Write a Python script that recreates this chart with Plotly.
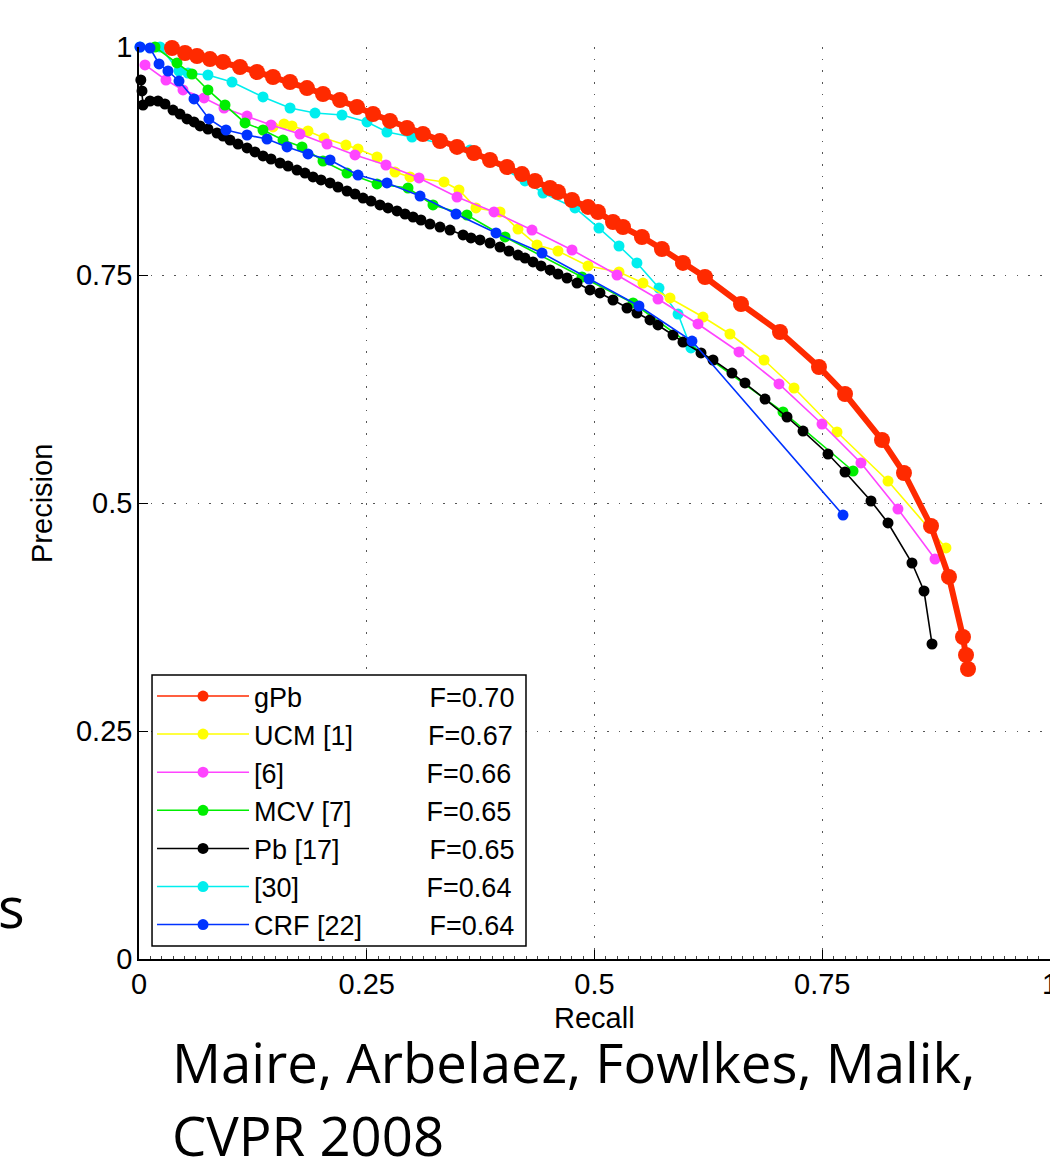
import plotly.graph_objects as go

# ---------------- data ----------------
gpb_r = [0.0362, 0.0505, 0.0637, 0.0779, 0.0922, 0.1109, 0.1295, 0.1471, 0.1658, 0.1844,
         0.2020, 0.2206, 0.2393, 0.2569, 0.2755, 0.2942, 0.3117, 0.3304, 0.3491, 0.3677,
         0.3853, 0.4040, 0.4204, 0.4347, 0.4512, 0.4599, 0.4753, 0.4929, 0.5038, 0.5203,
         0.5313, 0.5521, 0.5740, 0.5971, 0.6213, 0.6608, 0.7036, 0.7464, 0.7750, 0.8156,
         0.8397, 0.8694, 0.8891, 0.9045, 0.9078, 0.9100]
gpb_p = [0.9989, 0.9934, 0.9901, 0.9868, 0.9836, 0.9781, 0.9726, 0.9671, 0.9616, 0.9550,
         0.9485, 0.9419, 0.9342, 0.9265, 0.9189, 0.9112, 0.9046, 0.8969, 0.8904, 0.8838,
         0.8761, 0.8684, 0.8607, 0.8531, 0.8454, 0.8410, 0.8322, 0.8246, 0.8191, 0.8081,
         0.8026, 0.7917, 0.7785, 0.7632, 0.7478, 0.7182, 0.6875, 0.6491, 0.6195, 0.5691,
         0.5329, 0.4748, 0.4189, 0.3531, 0.3333, 0.3180]

ucm_r = [0.1471, 0.1592, 0.1679, 0.1855, 0.2031, 0.2272, 0.2404, 0.2613, 0.2810, 0.2975,
         0.3348, 0.3513, 0.3699, 0.3963, 0.4160, 0.4369, 0.4599, 0.4929, 0.5269, 0.5532,
         0.5829, 0.6191, 0.6487, 0.6861, 0.7190, 0.7662, 0.8222, 0.8858]
ucm_p = [0.9123, 0.9156, 0.9134, 0.9079, 0.9002, 0.8925, 0.8882, 0.8794, 0.8629, 0.8575,
         0.8520, 0.8432, 0.8235, 0.8191, 0.8004, 0.7829, 0.7763, 0.7599, 0.7533, 0.7412,
         0.7248, 0.7039, 0.6853, 0.6568, 0.6261, 0.5779, 0.5241, 0.4507]

m6_r = [0.0066, 0.0296, 0.0483, 0.0714, 0.0933, 0.1186, 0.1449, 0.1767, 0.2064, 0.2371,
        0.2711, 0.3074, 0.3491, 0.3897, 0.4314, 0.4753, 0.5247, 0.5697, 0.6136, 0.6586,
        0.7025, 0.7497, 0.7925, 0.8331, 0.8738]
m6_p = [0.9803, 0.9638, 0.9529, 0.9441, 0.9331, 0.9243, 0.9145, 0.9046, 0.8936, 0.8816,
        0.8706, 0.8564, 0.8355, 0.8191, 0.7993, 0.7774, 0.7500, 0.7237, 0.6963, 0.6656,
        0.6305, 0.5866, 0.5439, 0.4934, 0.4386]

mcv_r = [0.0176, 0.0417, 0.0582, 0.0757, 0.0944, 0.1164, 0.1361, 0.1581, 0.1789, 0.2020,
         0.2283, 0.2613, 0.2953, 0.3227, 0.3600, 0.4018, 0.4863, 0.5423, 0.7069, 0.7838]
mcv_p = [1.0000, 0.9825, 0.9704, 0.9529, 0.9364, 0.9167, 0.9090, 0.8980, 0.8904, 0.8750,
         0.8618, 0.8498, 0.8454, 0.8268, 0.8158, 0.7917, 0.7478, 0.7193, 0.5998, 0.5351]

pb_r = [0.0020, 0.0033, 0.0044, 0.0121, 0.0209, 0.0285, 0.0373, 0.0450, 0.0527, 0.0604,
        0.0670, 0.0757, 0.0856, 0.0922, 0.0999, 0.1087, 0.1186, 0.1273, 0.1361, 0.1449,
        0.1548, 0.1636, 0.1734, 0.1822, 0.1910, 0.1998, 0.2097, 0.2184, 0.2283, 0.2371,
        0.2459, 0.2547, 0.2645, 0.2733, 0.2832, 0.2920, 0.3008, 0.3095, 0.3194, 0.3304,
        0.3414, 0.3557, 0.3644, 0.3743, 0.3853, 0.3963, 0.4061, 0.4160, 0.4237, 0.4325,
        0.4413, 0.4512, 0.4599, 0.4698, 0.4808, 0.4951, 0.5060, 0.5203, 0.5357, 0.5466,
        0.5609, 0.5697, 0.5862, 0.5971, 0.6169, 0.6301, 0.6509, 0.6652, 0.6872, 0.7113,
        0.7289, 0.7563, 0.7750, 0.8035, 0.8222, 0.8485, 0.8617, 0.8705]
pb_p = [0.9638, 0.9518, 0.9364, 0.9408, 0.9408, 0.9375, 0.9309, 0.9265, 0.9211, 0.9178,
        0.9134, 0.9101, 0.9057, 0.9024, 0.8980, 0.8936, 0.8893, 0.8849, 0.8805, 0.8772,
        0.8728, 0.8695, 0.8651, 0.8618, 0.8575, 0.8542, 0.8509, 0.8465, 0.8421, 0.8388,
        0.8344, 0.8311, 0.8268, 0.8235, 0.8202, 0.8169, 0.8136, 0.8103, 0.8059, 0.8026,
        0.7993, 0.7939, 0.7906, 0.7884, 0.7851, 0.7807, 0.7763, 0.7719, 0.7686, 0.7643,
        0.7599, 0.7555, 0.7511, 0.7467, 0.7412, 0.7336, 0.7303, 0.7226, 0.7138, 0.7083,
        0.7007, 0.6952, 0.6842, 0.6765, 0.6645, 0.6568, 0.6425, 0.6316, 0.6140, 0.5943,
        0.5789, 0.5537, 0.5340, 0.5022, 0.4781, 0.4342, 0.4035, 0.3454]

m30_r = [0.0011, 0.0231, 0.0439, 0.0538, 0.0757, 0.1021, 0.1361, 0.1658, 0.1932, 0.2228,
         0.2503, 0.2722, 0.2997, 0.3633, 0.4237, 0.4435, 0.4786, 0.5049, 0.5269, 0.5466,
         0.5708, 0.5917, 0.6059]
m30_p = [1.0000, 1.0000, 0.9737, 0.9715, 0.9693, 0.9616, 0.9452, 0.9331, 0.9276, 0.9254,
         0.9178, 0.9068, 0.9013, 0.8870, 0.8531, 0.8399, 0.8235, 0.8015, 0.7818, 0.7632,
         0.7357, 0.7072, 0.6700]

crf_r = [0.0011, 0.0121, 0.0220, 0.0318, 0.0439, 0.0604, 0.0768, 0.0955, 0.1186, 0.1405,
         0.1625, 0.1855, 0.2097, 0.2404, 0.2722, 0.3085, 0.3480, 0.3919, 0.4424, 0.4940,
         0.5488, 0.6070, 0.7728]
crf_p = [1.0000, 0.9989, 0.9814, 0.9737, 0.9627, 0.9430, 0.9211, 0.9090, 0.9035, 0.8991,
         0.8904, 0.8827, 0.8761, 0.8596, 0.8509, 0.8366, 0.8169, 0.7961, 0.7741, 0.7456,
         0.7160, 0.6776, 0.4868]

legend_names = ["gPb", "UCM [1]", "[6]", "MCV [7]", "Pb [17]", "[30]", "CRF [22]"]
legend_f = ["0.70", "0.67", "0.66", "0.65", "0.65", "0.64", "0.64"]
tick_vals = [0, 0.25, 0.5, 0.75, 1]
tick_text = ["0", "0.25", "0.5", "0.75", "1"]

# ---------------- styling ----------------
COLORS = {
    "gPb": "#ff2a00", "UCM [1]": "#ffff00", "[6]": "#ff44ff", "MCV [7]": "#00ee00",
    "Pb [17]": "#000000", "[30]": "#00eeee", "CRF [22]": "#0033ff",
}
series = {
    "gPb": (gpb_r, gpb_p), "UCM [1]": (ucm_r, ucm_p), "[6]": (m6_r, m6_p),
    "MCV [7]": (mcv_r, mcv_p), "Pb [17]": (pb_r, pb_p), "[30]": (m30_r, m30_p),
    "CRF [22]": (crf_r, crf_p),
}
draw_order = ["[30]", "UCM [1]", "[6]", "MCV [7]", "Pb [17]", "CRF [22]", "gPb"]

FONT = "Liberation Sans, Arial, Helvetica, sans-serif"
SLIDE_FONT = "Open Sans, Noto Sans, sans-serif"
LEG_FS = 27
ARIAL_W = {' ': 278, 'g': 556, 'P': 667, 'b': 556, 'U': 722, 'C': 722, 'M': 833, '[': 278,
           ']': 278, 'V': 667, 'R': 722, 'F': 611, '=': 584, '.': 278}


def text_w(s, fs):
    return sum(ARIAL_W.get(c, 556) for c in s) * fs / 1000.0


fig = go.Figure()

for name in draw_order:
    r, p = series[name]
    big = name == "gPb"
    fig.add_trace(go.Scatter(
        x=r, y=p, mode="lines+markers", showlegend=False, cliponaxis=False,
        line=dict(color=COLORS[name], width=6 if big else 1.6),
        marker=dict(color=COLORS[name], size=16 if big else 11, line=dict(width=0)),
        hoverinfo="skip",
    ))

# legend entries
F_OFFSET = 176
for i, (name, f) in enumerate(zip(legend_names, legend_f)):
    pad = F_OFFSET - text_w(name, LEG_FS)
    n = max(1, round(pad / (0.278 * LEG_FS)))
    label = name + "\u00a0" * n + "F=" + f
    fig.add_trace(go.Scatter(
        x=[None], y=[None], mode="lines+markers", name=label, legendrank=i + 1,
        line=dict(color=COLORS[name], width=1.5),
        marker=dict(color=COLORS[name], size=11),
    ))

grid_kw = dict(showgrid=True, gridcolor="#555555", gridwidth=1.4, griddash="1.6px,10.1px")

fig.update_layout(
    width=1050, height=1167,
    margin=dict(l=139, r=0, t=47, b=208, autoexpand=False),
    paper_bgcolor="white", plot_bgcolor="white",
    font=dict(family=FONT, size=29, color="black"),
    showlegend=True,
    legend=dict(
        x=0.0143, y=0.0110, xanchor="left", yanchor="bottom",
        bgcolor="rgba(0,0,0,0)", borderwidth=0,
        font=dict(family=FONT, size=LEG_FS, color="black"),
        itemwidth=92, tracegroupgap=0,
    ),
    # legend frame (white box with black border) behind the legend entries
    shapes=[dict(type="rect", xref="paper", yref="paper", layer="above",
                 x0=0.0143, x1=0.4248, y0=0.0143, y1=0.3114,
                 fillcolor="white", line=dict(color="black", width=1.5))],
    xaxis=dict(
        range=[0, 1], tickvals=tick_vals, ticktext=tick_text, automargin=False,
        showline=True, linecolor="black", linewidth=1.5, mirror=False,
        ticks="inside", ticklen=9, tickwidth=1.3, tickcolor="black",
        ticklabelstandoff=-2, ticklabeloverflow="allow", zeroline=False,
        minor=dict(dtick=0.0125, tick0=0, ticks="inside", ticklen=3, tickwidth=1,
                   tickcolor="#444444", showgrid=False),
        tickfont=dict(family=FONT, size=29),
        **grid_kw,
    ),
    yaxis=dict(
        range=[0, 1], tickvals=tick_vals, ticktext=tick_text, automargin=False,
        showline=True, linecolor="black", linewidth=1.5, mirror=False,
        ticks="inside", ticklen=9, tickwidth=1.3, tickcolor="black",
        ticklabelstandoff=-1, zeroline=False,
        tickfont=dict(family=FONT, size=29),
        **grid_kw,
    ),
)

annos = [
    dict(text="Recall", x=0.5, y=-0.0647, xref="paper", yref="paper",
         xanchor="center", yanchor="middle", showarrow=False,
         font=dict(family=FONT, size=29, color="black")),
    dict(text="Precision", x=-0.1065, y=0.5, xref="paper", yref="paper",
         xanchor="center", yanchor="middle", showarrow=False, textangle=-90,
         font=dict(family=FONT, size=29, color="black")),
    dict(text="Maire, Arbelaez, Fowlkes, Malik,", x=0.034, y=-0.1129, xref="paper",
         yref="paper", xanchor="left", yanchor="middle", showarrow=False,
         font=dict(family=SLIDE_FONT, size=54.5, color="black")),
    dict(text="CVPR 2008", x=0.034, y=-0.1930, xref="paper",
         yref="paper", xanchor="left", yanchor="middle", showarrow=False,
         font=dict(family=SLIDE_FONT, size=54.5, color="black")),
    dict(text="s", x=-0.1229, y=0.0581, xref="paper", yref="paper",
         xanchor="right", yanchor="middle", showarrow=False,
         font=dict(family=SLIDE_FONT, size=56, color="black")),
]
fig.update_layout(annotations=annos)

# the page's default 8px body margin would shift the fixed-size figure
fig.write_html(
    "out.html",
    config={"displayModeBar": False},
    post_script="document.body.style.margin='0';document.body.style.overflow='hidden';",
)
